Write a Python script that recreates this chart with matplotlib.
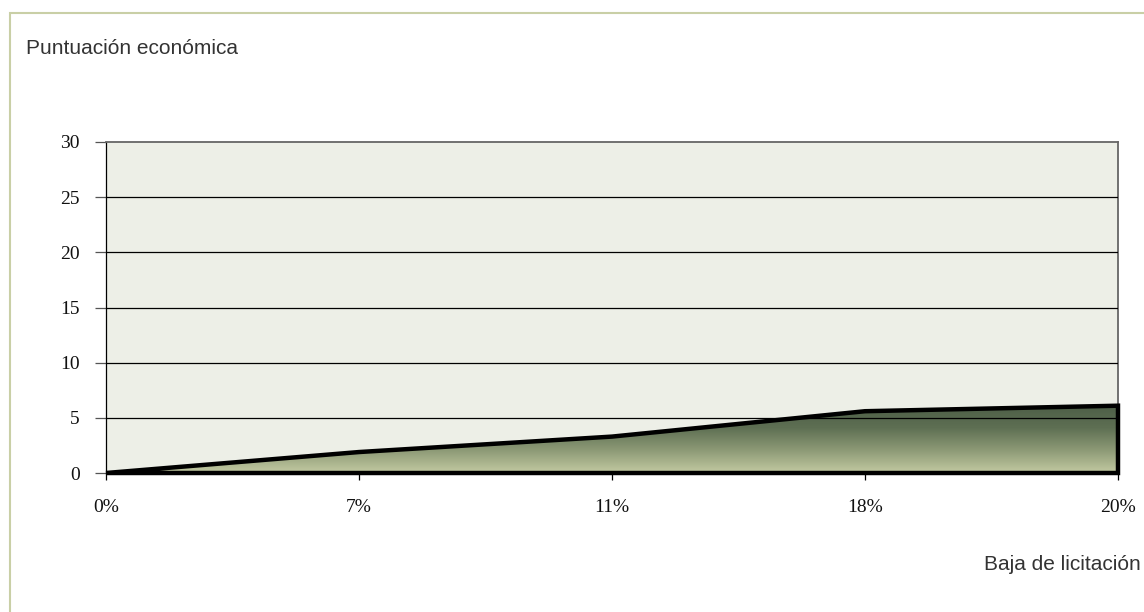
import matplotlib
matplotlib.use("Agg")
import matplotlib.pyplot as plt
import numpy as np
from matplotlib.patches import Polygon, Rectangle
from matplotlib.colors import LinearSegmentedColormap

# Datos
categorias = ["0%", "7%", "11%", "18%", "20%"]
puntuacion = [0, 1.9, 3.3, 5.6, 6.1]
y_ticks = [0, 5, 10, 15, 20, 25, 30]

W, H = 1144, 612
fig = plt.figure(figsize=(W / 100, H / 100), dpi=100)
fig.patch.set_facecolor("white")

# marco exterior
fig.patches.append(Rectangle((10 / W, -0.1), 1.2, (H - 13) / H + 0.1, transform=fig.transFigure,
                             fill=False, edgecolor="#c9cfa6", linewidth=1.5))

ax = fig.add_axes([106 / W, 1 - 473 / H, (1118 - 106) / W, (473 - 142) / H])
ax.set_facecolor("#edefe7")

x = np.arange(len(categorias))
ax.set_xlim(0, len(categorias) - 1)
ax.set_ylim(0, 30)

# relleno con degradado
verts = [(0, 0)] + list(zip(x, puntuacion)) + [(x[-1], 0)]
poly = Polygon(verts, closed=True, facecolor="none", edgecolor="none")
ax.add_patch(poly)
cmap = LinearSegmentedColormap.from_list("verde", ["#c3caa2", "#8d9a76", "#5e6f53", "#4d5e47"])
grad = np.linspace(0, 1, 256).reshape(-1, 1)
img = ax.imshow(grad, cmap=cmap, origin="lower", aspect="auto",
                extent=[0, x[-1], 0, max(puntuacion)], zorder=2)
img.set_clip_path(poly)

# lineas de cuadricula
for t in y_ticks[1:-1]:
    ax.axhline(t, color="black", linewidth=0.9, zorder=3)

# contorno
ax.add_patch(Polygon(verts, closed=True, fill=False, edgecolor="black",
                     linewidth=3.2, joinstyle="miter", zorder=4, clip_on=False))

ax.set_yticks(y_ticks)
ax.set_xticks(x)
ax.set_xticklabels(categorias)
ax.spines["bottom"].set_visible(False)
for s in ["top", "right"]:
    ax.spines[s].set_color("#666666")
    ax.spines[s].set_linewidth(1.3)
ax.spines["left"].set_color("black")
ax.spines["left"].set_linewidth(0.9)
ax.tick_params(axis="y", length=8, width=0.9, color="#555555", pad=11)
ax.tick_params(axis="x", length=5, width=0.9, color="black", pad=14)
for lab in ax.get_xticklabels() + ax.get_yticklabels():
    lab.set_fontfamily("Liberation Serif")
    lab.set_fontsize(14)
    lab.set_color("#111111")

fig.text(26 / W, 1 - 49 / H, "Puntuación económica", fontsize=15, family="Liberation Sans",
         color="#333333", va="center", ha="left")
fig.text(1141 / W, 1 - 565 / H, "Baja de licitación", fontsize=15, family="Liberation Sans",
         color="#333333", va="center", ha="right")

fig.savefig("out.png", dpi=100)
